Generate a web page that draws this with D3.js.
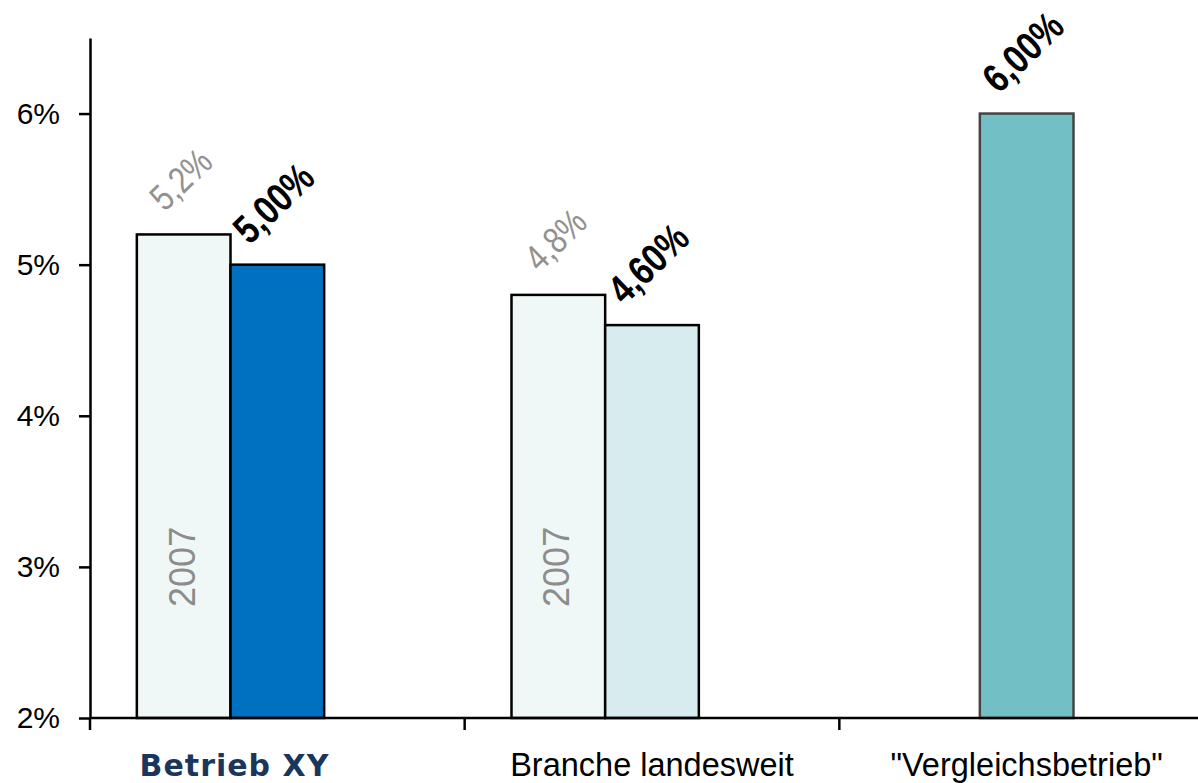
<!DOCTYPE html>
<html>
<head>
<meta charset="utf-8">
<script src="https://cdn.jsdelivr.net/npm/d3@7"></script>
<style>
  body { margin: 0; background: #fff; }
  svg { display: block; font-family: "Liberation Sans", Arial, sans-serif; }
</style>
</head>
<body>
<svg id="chart"></svg>
<script>
// Daten
const categories = ["Betrieb XY", "Branche landesweit", "\"Vergleichsbetrieb\""];
const series = ["2007", "aktuell", "leer"];
const values2007 = [5.2, 4.8, null];
const valuesAktuell = [5.0, 4.6, 6.0];
const labels2007 = ["5,2%", "4,8%", ""];
const labelsAktuell = ["5,00%", "4,60%", "6,00%"];
const yTicks = [2, 3, 4, 5, 6];
const yearText = "2007";

const fill2007 = "#f0f8f7";
const fillAktuell = ["#0070c0", "#d7ecee", "#72bfc5"];
const strokeAktuell = ["#000", "#000", "#444"];

const width = 1198, height = 783;
const margin = { left: 90, right: 1214, top: 38, bottom: 718 };

const svg = d3.select("#chart").attr("width", width).attr("height", height);

const y = d3.scaleLinear().domain([2, 6.5]).range([margin.bottom, margin.top]);
const x0 = d3.scaleBand().domain(categories).range([margin.left, margin.right]);
const x1 = d3.scaleBand().domain(series).range([0, x0.bandwidth()])
  .paddingInner(0).paddingOuter(0.5);

// y-Achse
const yAxis = d3.axisLeft(y).tickValues(yTicks).tickSize(11).tickSizeOuter(0)
  .tickFormat(d => d + "%");
const gy = svg.append("g").attr("transform", `translate(${margin.left},0)`).call(yAxis);
gy.select(".domain").attr("stroke", "#000").attr("stroke-width", 2.5);
gy.selectAll(".tick line").attr("stroke", "#000").attr("stroke-width", 2.5);
gy.selectAll(".tick text").attr("font-size", 30).attr("fill", "#000")
  .attr("font-family", "Liberation Sans, Arial, sans-serif").attr("x", -30);

// Balken
const rows = categories.map((c, i) => ({ c, i, v07: values2007[i], v: valuesAktuell[i] }));
const g = svg.append("g");

g.selectAll("rect.b07").data(rows.filter(d => d.v07 != null)).join("rect")
  .attr("class", "b07")
  .attr("x", d => x0(d.c) + x1("2007"))
  .attr("y", d => y(d.v07))
  .attr("width", x1.bandwidth())
  .attr("height", d => y(2) - y(d.v07))
  .attr("fill", fill2007).attr("stroke", "#000").attr("stroke-width", 2.5);

g.selectAll("rect.bak").data(rows).join("rect")
  .attr("class", "bak")
  .attr("x", d => x0(d.c) + x1("aktuell"))
  .attr("y", d => y(d.v))
  .attr("width", x1.bandwidth())
  .attr("height", d => y(2) - y(d.v))
  .attr("fill", d => fillAktuell[d.i]).attr("stroke", d => strokeAktuell[d.i]).attr("stroke-width", 2.5);

// "2007" im Balken
g.selectAll("text.year").data(rows.filter(d => d.v07 != null)).join("text")
  .attr("class", "year")
  .attr("transform", d => `translate(${x0(d.c) + x1("2007") + x1.bandwidth() / 2 + 11},${y(3)}) rotate(-90)`)
  .attr("text-anchor", "middle")
  .attr("font-size", 36).attr("fill", "#8c8c8c")
  .text(yearText);

// Wertbeschriftungen
g.selectAll("text.l07").data(rows.filter(d => d.v07 != null)).join("text")
  .attr("class", "l07")
  .attr("transform", d => `translate(${x0(d.c) + x1("2007") + 28},${y(d.v07) - 22}) rotate(-44) scale(0.92,1.12)`)
  .attr("font-size", 33).attr("fill", "#919191")
  .text(d => labels2007[d.i]);

g.selectAll("text.lak").data(rows).join("text")
  .attr("class", "lak")
  .attr("transform", d => `translate(${x0(d.c) + x1("aktuell") + 19},${y(d.v) - 19}) rotate(-44) scale(0.92,1.12)`)
  .attr("font-size", 36).attr("font-weight", "bold").attr("fill", "#000")
  .text(d => labelsAktuell[d.i]);

// x-Achse
svg.append("line").attr("x1", margin.left).attr("x2", width).attr("y1", margin.bottom).attr("y2", margin.bottom)
  .attr("stroke", "#000").attr("stroke-width", 2.5);
svg.selectAll("line.xt").data(categories).join("line")
  .attr("class", "xt")
  .attr("x1", d => x0(d)).attr("x2", d => x0(d))
  .attr("y1", margin.bottom).attr("y2", margin.bottom + 12)
  .attr("stroke", "#000").attr("stroke-width", 2.5);

// Kategorien
svg.selectAll("text.cat").data(rows).join("text")
  .attr("class", "cat")
  .attr("x", d => d.i === 0 ? x0(d.c) + x1("aktuell") + 4 : x0(d.c) + x0.bandwidth() / 2)
  .attr("y", 776)
  .attr("text-anchor", "middle")
  .attr("font-size", d => d.i === 0 ? 30 : 32.5)
  .attr("font-family", d => d.i === 0 ? "DejaVu Sans, Verdana, sans-serif" : "Liberation Sans, Arial, sans-serif")
  .attr("font-weight", d => d.i === 0 ? "bold" : "normal")
  .attr("letter-spacing", d => d.i === 0 ? 1 : 0)
  .attr("fill", d => d.i === 0 ? "#1b365d" : "#000")
  .text(d => d.c);
</script>
</body>
</html>
